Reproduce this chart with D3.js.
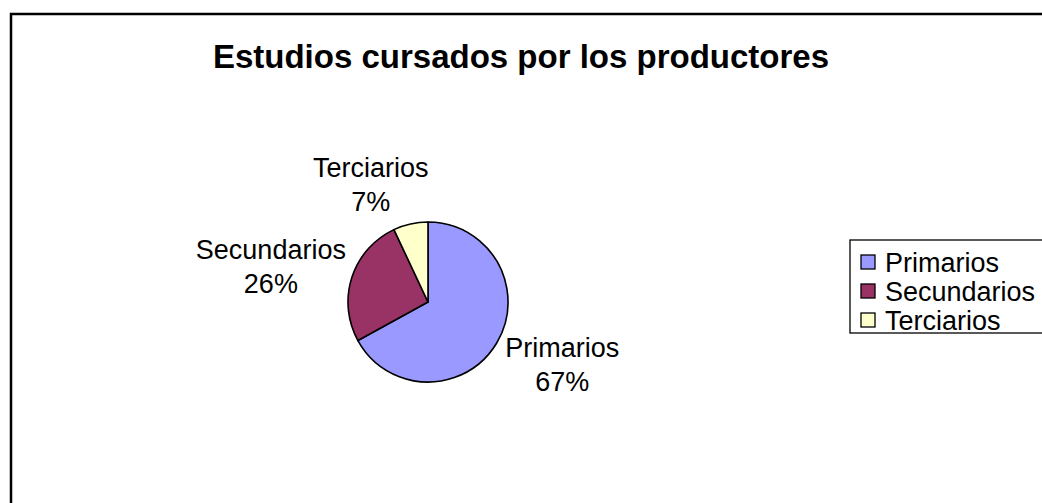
<!DOCTYPE html>
<html>
<head>
<meta charset="utf-8">
<script src="https://cdn.jsdelivr.net/npm/d3@7"></script>
<style>
  html, body { margin: 0; padding: 0; background: #fff; }
  svg { display: block; font-family: "Liberation Sans", Arial, sans-serif; }
</style>
</head>
<body>
<svg id="chart" width="1042" height="503"></svg>
<script>
// ---- data ----
const title = "Estudios cursados por los productores";
const categories = ["Primarios", "Secundarios", "Terciarios"];
const values = [67, 26, 7];
const colors = ["#9999FF", "#993366", "#FFFFCC"];

// ---- layout ----
const W = 1042, H = 503;
const cx = 428, cy = 302, r = 80;
const labelRadius = 120;
const labelNudge = [[31, -1], [-43, -1], [-31, -3]];

const svg = d3.select("#chart");

// outer chart border (extends past the visible area on right/bottom)
svg.append("rect")
  .attr("x", 11).attr("y", 14)
  .attr("width", 1100).attr("height", 600)
  .attr("fill", "#fff").attr("stroke", "#000").attr("stroke-width", 2.5);

svg.append("text")
  .attr("x", 521).attr("y", 68)
  .attr("text-anchor", "middle")
  .attr("font-size", 33).attr("font-weight", "bold")
  .text(title);

const data = categories.map((c, i) => ({ name: c, value: values[i], color: colors[i], i }));
const pie = d3.pie().sort(null).value(d => d.value);
const arcs = pie(data);
const arc = d3.arc().innerRadius(0).outerRadius(r);
const labelArc = d3.arc().innerRadius(labelRadius).outerRadius(labelRadius);

const g = svg.append("g").attr("transform", `translate(${cx},${cy})`);
g.selectAll("path.slice").data(arcs).join("path")
  .attr("class", "slice")
  .attr("d", arc)
  .attr("fill", d => d.data.color)
  .attr("stroke", "#000").attr("stroke-width", 1.6)
  .attr("stroke-linejoin", "round");

const total = d3.sum(values);
const lbl = g.selectAll("g.lbl").data(arcs).join("g").attr("class", "lbl")
  .attr("transform", d => {
    const [x, y] = labelArc.centroid(d);
    const n = labelNudge[d.data.i];
    return `translate(${x + n[0]},${y + n[1]})`;
  });
lbl.append("text").attr("text-anchor", "middle").attr("y", -5)
  .attr("font-size", 27).text(d => d.data.name);
lbl.append("text").attr("text-anchor", "middle").attr("y", 29)
  .attr("font-size", 27).text(d => Math.round(d.data.value / total * 100) + "%");

// legend
const lg = svg.append("g").attr("transform", "translate(850,240)");
lg.append("rect").attr("x", 0).attr("y", 0).attr("width", 250).attr("height", 93)
  .attr("fill", "#fff").attr("stroke", "#000").attr("stroke-width", 1.3);
const rowY = d3.scalePoint().domain(categories).range([22, 80]);
const item = lg.selectAll("g.item").data(data).join("g").attr("class", "item")
  .attr("transform", d => `translate(0,${rowY(d.name)})`);
item.append("rect").attr("x", 11).attr("y", -7).attr("width", 14).attr("height", 14)
  .attr("fill", d => d.color).attr("stroke", "#000").attr("stroke-width", 1.3);
item.append("text").attr("x", 35).attr("y", 9.5).attr("font-size", 27).text(d => d.name);
</script>
</body>
</html>
